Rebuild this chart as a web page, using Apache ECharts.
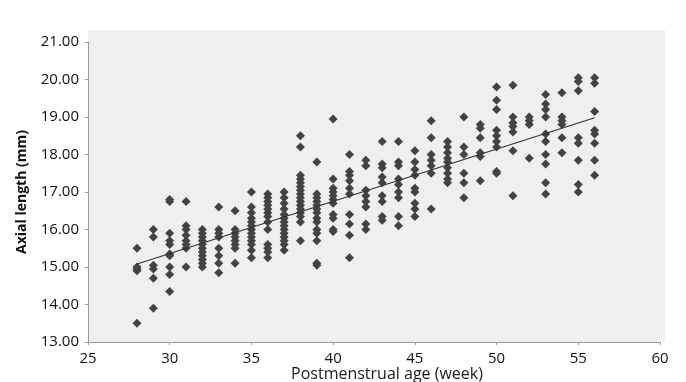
<!DOCTYPE html>
<html>
<head>
<meta charset="utf-8">
<script src="https://cdn.jsdelivr.net/npm/echarts@6/dist/echarts.min.js"></script>
<style>
  html, body { margin: 0; padding: 0; background: #fff; }
  #chart { width: 686px; height: 382px; }
</style>
</head>
<body>
<div id="chart"></div>
<script>
// postmenstrual age (week) for each column of points
const weeks = [28, 29, 30, 31, 32, 33, 34, 35, 36, 37, 38, 39, 40, 41, 42, 43, 44, 45, 46, 47, 48, 49, 50, 51, 52, 53, 54, 55, 56];

// axial length (mm) read per week, same order as weeks
const lengthsByWeek = [
  [15.5, 15.0, 14.95, 14.9, 13.5],
  [16.0, 15.8, 15.05, 14.95, 14.7, 13.9],
  [16.8, 16.75, 15.9, 15.7, 15.6, 15.35, 15.3, 15.0, 14.8, 14.35],
  [16.75, 16.1, 16.0, 15.85, 15.7, 15.6, 15.5, 15.0],
  [16.0, 15.9, 15.8, 15.7, 15.6, 15.5, 15.4, 15.3, 15.2, 15.1, 15.0],
  [16.6, 16.0, 15.9, 15.8, 15.5, 15.3, 15.1, 14.85],
  [16.5, 16.0, 15.9, 15.8, 15.7, 15.6, 15.5, 15.1],
  [17.0, 16.6, 16.45, 16.3, 16.2, 16.1, 16.0, 15.9, 15.8, 15.7, 15.6, 15.45, 15.25],
  [16.95, 16.85, 16.75, 16.65, 16.55, 16.45, 16.35, 16.2, 16.0, 15.6, 15.5, 15.4, 15.25],
  [17.0, 16.85, 16.7, 16.55, 16.4, 16.3, 16.2, 16.1, 16.0, 15.9, 15.8, 15.7, 15.6, 15.45],
  [18.5, 18.2, 17.45, 17.35, 17.25, 17.15, 17.05, 16.95, 16.85, 16.75, 16.65, 16.55, 16.45, 16.35, 16.2, 15.7],
  [17.8, 16.95, 16.85, 16.75, 16.65, 16.55, 16.45, 16.3, 16.2, 16.0, 15.9, 15.7, 15.1, 15.05],
  [18.95, 17.35, 17.1, 17.0, 16.9, 16.8, 16.7, 16.4, 16.3, 16.0, 15.95],
  [18.0, 17.55, 17.45, 17.3, 17.1, 16.95, 16.4, 16.15, 15.85, 15.25],
  [17.85, 17.7, 17.05, 16.9, 16.75, 16.6, 16.15, 16.0],
  [18.35, 17.75, 17.65, 17.4, 17.25, 16.9, 16.75, 16.35, 16.25],
  [18.35, 17.8, 17.7, 17.35, 17.2, 17.0, 16.85, 16.35, 16.1],
  [18.1, 17.8, 17.6, 17.45, 17.1, 17.0, 16.7, 16.55, 16.35],
  [18.9, 18.45, 18.0, 17.85, 17.7, 17.5, 16.55],
  [18.35, 18.2, 18.05, 17.9, 17.8, 17.65, 17.5, 17.35, 17.25],
  [19.0, 18.2, 18.0, 17.5, 17.25, 16.85],
  [18.8, 18.7, 18.45, 18.05, 17.95, 17.3],
  [19.8, 19.45, 19.2, 18.65, 18.5, 18.35, 18.2, 17.55, 17.5],
  [19.85, 19.0, 18.85, 18.75, 18.6, 18.1, 16.9],
  [19.0, 18.9, 18.8, 17.9],
  [19.6, 19.35, 19.2, 19.0, 18.55, 18.35, 18.0, 17.75, 17.25, 16.95],
  [19.65, 19.0, 18.9, 18.8, 18.45, 18.05],
  [20.05, 19.95, 19.7, 18.45, 18.3, 17.85, 17.2, 17.0],
  [20.05, 19.9, 19.15, 18.65, 18.55, 18.3, 17.85, 17.45]
];

// fitted line end points
const trendAges = [28, 56];
const trendLengths = [15.08, 18.98];

const points = [];
weeks.forEach((w, i) => {
  lengthsByWeek[i].forEach(v => points.push([w, v]));
});

const chart = echarts.init(document.getElementById('chart'));
const labelFont = '"Open Sans", "Noto Sans", sans-serif';

chart.setOption({
  animation: false,
  // plot panel: grey area starts a little above the 21.00 line
  graphic: [{
    type: 'rect',
    z: -10,
    silent: true,
    shape: { x: 88, y: 30, width: 577, height: 312 },
    style: { fill: '#efefef' }
  }],
  grid: {
    left: 88,
    right: 26,
    top: 42,
    bottom: 40,
    show: false,
    outerBoundsMode: 'none'
  },
  xAxis: {
    type: 'value',
    min: 25,
    max: 60,
    interval: 5,
    name: 'Postmenstrual age (week)',
    nameLocation: 'middle',
    nameGap: 24,
    nameMoveOverlap: false,
    nameTextStyle: { fontFamily: labelFont, fontSize: 16, color: '#1a1a1a', padding: [0, 0, 0, 26] },
    axisLine: { show: true, lineStyle: { color: '#9a9a9a', width: 1 } },
    axisTick: { show: true, length: 3, lineStyle: { color: '#9a9a9a' } },
    axisLabel: { fontFamily: labelFont, fontSize: 15, color: '#111', margin: 9 },
    splitLine: { show: false }
  },
  yAxis: {
    type: 'value',
    min: 13,
    max: 21,
    interval: 1,
    name: 'Axial length (mm)',
    nameLocation: 'middle',
    nameGap: 59,
    nameMoveOverlap: false,
    nameTextStyle: { fontFamily: labelFont, fontSize: 14, fontWeight: 'bold', color: '#111' },
    axisLine: { show: true, lineStyle: { color: '#9a9a9a', width: 1 } },
    axisTick: { show: true, length: 3, lineStyle: { color: '#9a9a9a' } },
    axisLabel: {
      fontFamily: labelFont, fontSize: 15, color: '#111', margin: 9,
      formatter: v => v.toFixed(2)
    },
    splitLine: { show: false }
  },
  series: [
    {
      type: 'scatter',
      symbol: 'diamond',
      symbolSize: [9, 9],
      itemStyle: { color: '#434343', opacity: 1 },
      data: points
    },
    {
      type: 'line',
      symbol: 'none',
      lineStyle: { color: '#333', width: 1.2 },
      data: trendAges.map((a, i) => [a, trendLengths[i]]),
      z: 3
    }
  ]
});
</script>
</body>
</html>
